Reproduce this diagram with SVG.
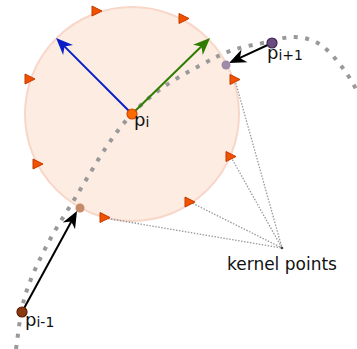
<svg xmlns="http://www.w3.org/2000/svg" width="357" height="349" viewBox="0 0 357 349">
  <style>
    .lbl { font-family: "DejaVu Sans", Verdana, sans-serif; fill: #111; }
    .kp { fill: #f05200; stroke: #c43800; stroke-width: 1; stroke-linejoin: round; }
    .kline { fill: none; stroke: #999; stroke-width: 1.3; stroke-dasharray: 1.5 1.5; }
    .curve { fill: none; stroke: #999; stroke-width: 4; stroke-dasharray: 4 7.5; }
    .arr { fill: none; stroke-width: 2; }
  </style>
  <defs>
    <marker id="ah-blue" viewBox="-9 -9 19 18" refX="0" refY="0" markerWidth="19" markerHeight="18" markerUnits="userSpaceOnUse" orient="auto">
      <path d="M9,0 L-8,-7 L-3,0 L-8,7 Z" fill="#0a1ec8"/>
    </marker>
    <marker id="ah-green" viewBox="-9 -9 19 18" refX="0" refY="0" markerWidth="19" markerHeight="18" markerUnits="userSpaceOnUse" orient="auto">
      <path d="M9,0 L-8,-7 L-3,0 L-8,7 Z" fill="#2f7d00"/>
    </marker>
    <marker id="ah-black" viewBox="-9 -9 19 18" refX="0" refY="0" markerWidth="19" markerHeight="18" markerUnits="userSpaceOnUse" orient="auto">
      <path d="M9,0 L-8,-7 L-3,0 L-8,7 Z" fill="#000"/>
    </marker>
  </defs>

  <g id="kernel-sphere">
    <circle cx="132" cy="114" r="107" fill="#fcece2" stroke="#f8d6c8" stroke-width="2"/>
  </g>

  <g id="connectors">
    <g id="kernel-lines">
      <line class="kline" x1="235" y1="80" x2="282" y2="248"/>
      <line class="kline" x1="231" y1="157" x2="282" y2="248"/>
      <line class="kline" x1="190" y1="202" x2="282" y2="248"/>
      <line class="kline" x1="105" y1="218" x2="282" y2="248"/>
    </g>
    <path id="point-curve" class="curve" d="M16,349 C17.5,340.2 19.8,313.3 25,296 C30.2,278.7 38.3,261.8 47,245 C55.7,228.2 67,211.5 77,195 C87,178.5 97.8,159.5 107,146 C116.2,132.5 122.8,123.7 132,114 C141.2,104.3 150.5,96.2 162,88 C173.5,79.8 189.2,71.3 201,65 C212.8,58.7 221.8,53.8 233,50 C244.2,46.2 257.7,44.2 268,42 C278.3,39.8 286.2,36.5 295,37 C303.8,37.5 312.7,39.3 321,45 C329.3,50.7 338.2,61.8 345,71 C351.8,80.2 359.2,95.2 362,100"/>
    <line class="arr" stroke="#0a1ec8" x1="132" y1="114" x2="62.4" y2="44.4" marker-end="url(#ah-blue)"/>
    <line class="arr" stroke="#2f7d00" x1="132" y1="114" x2="203.6" y2="44.3" marker-end="url(#ah-green)"/>
    <line class="arr" stroke="#000" x1="272" y1="43" x2="237.2" y2="59.2" marker-end="url(#ah-black)"/>
    <line class="arr" stroke="#000" x1="22" y1="312" x2="72.7" y2="218.9" marker-end="url(#ah-black)"/>
  </g>

  <g id="kernel-points">
    <polygon class="kp" points="92,6 102,11 92,16"/>
    <polygon class="kp" points="179,13.5 189,18.5 179,23.5"/>
    <polygon class="kp" points="25,74 35,79 25,84"/>
    <polygon class="kp" points="33,159 43,164 33,169"/>
    <polygon class="kp" points="230,74.5 240,79.5 230,84.5"/>
    <polygon class="kp" points="226,151.5 236,156.5 226,161.5"/>
    <polygon class="kp" points="185,197 195,202 185,207"/>
    <polygon class="kp" points="100,212.5 110,217.5 100,222.5"/>
  </g>

  <g id="p-i-minus-1">
    <circle cx="22" cy="312" r="5" fill="#8b3a10" stroke="#5a1e05" stroke-width="1.2"/>
    <text class="lbl" x="25" y="326" font-size="18">p<tspan font-size="14" dy="1">i-1</tspan></text>
  </g>
  <g id="proj-prev">
    <circle cx="80" cy="208" r="4.5" fill="#c48a6a"/>
  </g>
  <g id="p-i">
    <circle cx="132" cy="114" r="5" fill="#ff6a00" stroke="#c84a00" stroke-width="1.2"/>
    <text class="lbl" x="134" y="126" font-size="18">p<tspan font-size="14" dy="1">i</tspan></text>
  </g>
  <g id="proj-next">
    <circle cx="226" cy="65" r="4.5" fill="#9e8aa8"/>
  </g>
  <g id="p-i-plus-1">
    <circle cx="272" cy="43" r="5" fill="#6b4c80" stroke="#3c2850" stroke-width="1.2"/>
    <text class="lbl" x="267" y="59" font-size="18">p<tspan font-size="14" dy="1">i+1</tspan></text>
  </g>
  <g id="kernel-label">
    <circle cx="282" cy="248" r="1.3" fill="#444"/>
    <text class="lbl" x="227" y="270" font-size="17">kernel points</text>
  </g>
</svg>
